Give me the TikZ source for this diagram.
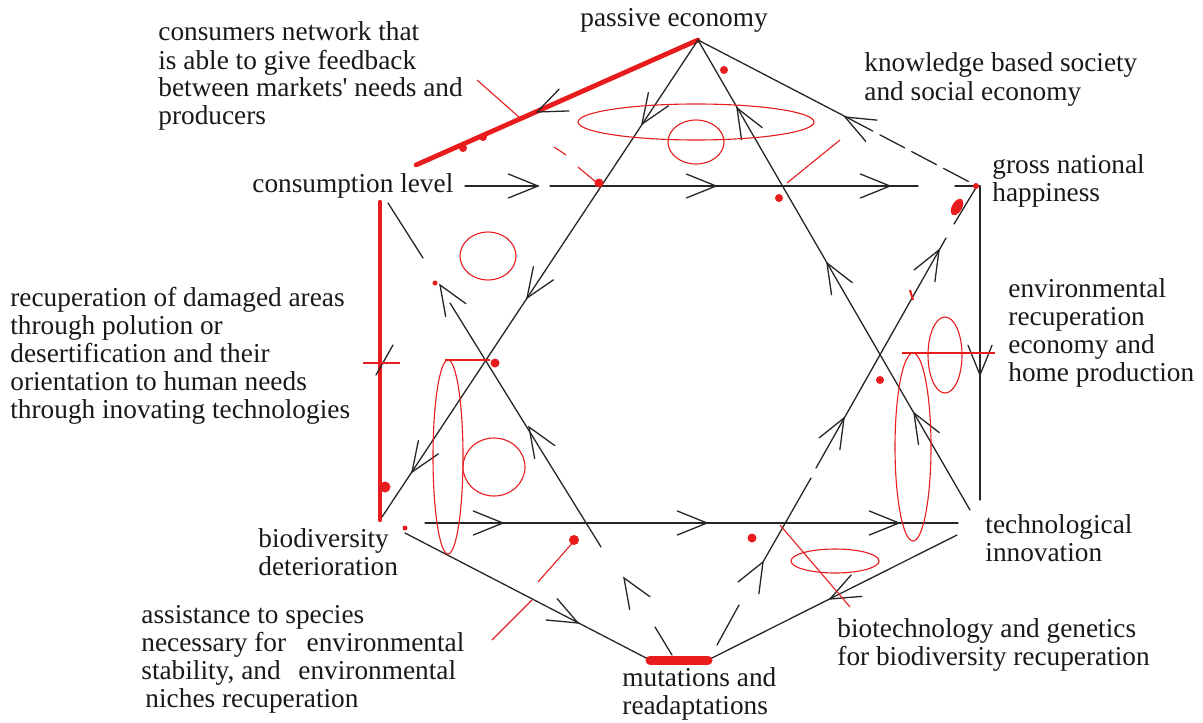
\documentclass[tikz,border=0pt]{standalone}
\usepackage{fontspec}
\setmainfont{Liberation Serif}
\begin{document}
\begin{tikzpicture}[x=0.5pt,y=-0.5pt,
  lbl/.style={anchor=base west, inner sep=0pt, align=left,
              font=\fontsize{13.65}{14}\selectfont, text=black!90},
  edge/.style={line width=0.65pt, draw=black!85, line cap=round},
  redline/.style={line width=0.55pt, draw=mred},
  redthick/.style={line width=2.4pt, draw=mred, line cap=round},
  reddot/.style={fill=mred, draw=none}]
\definecolor{mred}{RGB}{232,28,28}
% open V arrowhead: tip x, tip y, direction of travel (degrees, y downwards)
\newcommand\vhead[3]{\draw[edge,shift={(#1,#2)}] ({#3+158}:32) -- (0,0) -- ({#3-158}:32);}

\fill[white] (0,0) rectangle (1203,722);
\useasboundingbox (0,0) rectangle (1203,722);

% ---------- vertices of the hexagon ----------
\coordinate (T)   at (698,40);
\coordinate (UL)  at (416,165);
\coordinate (ULv) at (380,202);
\coordinate (LLv) at (380,520);
\coordinate (LL)  at (405,533);
\coordinate (Bl)  at (650,660);
\coordinate (Br)  at (708,660);
\coordinate (LR)  at (957,535);
\coordinate (UR)  at (977,186);
\coordinate (URv) at (980,186);
\coordinate (LRv) at (980,500);
\coordinate (Td)  at (848,118);

% ---------- outer hexagon ----------
\draw[redthick] (T) -- (UL);
\draw[redthick, line width=2.1pt] (ULv) -- (LLv);
\draw[edge] (LL) -- (Bl);
\draw[edge] (Br) -- (LR);
\draw[edge] (URv) -- (LRv);
\draw[edge] (T) -- (Td);
\draw[edge, dash pattern=on 14pt off 4pt] (Td) -- (UR);
\draw[mred, line width=4.5pt, line cap=round] (Bl) -- (Br);

% ---------- star: upward triangle ----------
\coordinate (Aend) at (382,517);
\coordinate (Bend) at (970,510);
\draw[edge] (T) -- (Aend);
\draw[edge] (T) -- (Bend);
\coordinate (lh1) at (425,523);
\coordinate (lh2) at (958,523);
\draw[edge] (lh1) -- (lh2);

% ---------- star: downward triangle ----------
\coordinate (uh1) at (465,186);
\coordinate (uh2) at (538,186);
\coordinate (uh3) at (550,186);
\coordinate (uh4) at (918,186);
\coordinate (uh5) at (955,186);
\draw[edge] (uh1) -- (uh2);
\draw[edge] (uh3) -- (uh4);
\draw[edge] (uh5) -- (URv);
% left edge, drawn in pieces
\coordinate (bl1) at (388,203);
\coordinate (bl2) at (423,258);
\coordinate (bl3) at (450,303);
\coordinate (bl4) at (601,547);
\coordinate (bl5) at (655,627);
\coordinate (bl6) at (672,655);
\draw[edge] (bl1) -- (bl2);
\draw[edge] (bl3) -- (bl4);
\draw[edge] (bl5) -- (bl6);
% right edge, drawn in pieces
\coordinate (br1) at (954,224);
\coordinate (br2) at (946,238);
\coordinate (br3) at (816,468);
\coordinate (br4) at (811,478);
\coordinate (br5) at (763,562);
\coordinate (br6) at (739,605);
\coordinate (br7) at (717,645);
\draw[edge] (UR) -- (br1);
\draw[edge] (br2) -- (br3);
\draw[edge] (br4) -- (br5);
\draw[edge] (br6) -- (br7);

% ---------- arrowheads ----------
\vhead{538}{186}{0}   \vhead{716}{186}{0}   \vhead{890}{186}{0}
\vhead{503}{523}{0}   \vhead{707}{523}{0}   \vhead{899}{523}{0}
\vhead{642}{124}{123.5} \vhead{527}{298}{123.5} \vhead{412}{472}{123.5}
\vhead{737}{108}{239.9} \vhead{827}{263}{239.9} \vhead{914}{413}{239.9}
\vhead{440}{285}{237.8} \vhead{529}{427}{237.8} \vhead{624}{578}{237.8}
\vhead{939}{250}{299.4} \vhead{844}{418}{299.4} \vhead{763}{562}{299.4}
\vhead{845}{117}{207.6}
\vhead{537}{112}{156.1}
\vhead{578}{623}{27.4}
\vhead{830}{599}{153.3}
\vhead{980}{375}{90}
\draw[edge] (376,375) -- (393,345);

% ---------- red annotations ----------
\draw[redline] (477,80) -- (520,118);
\draw[redline] (554,147) -- (566,155);
\draw[redline] (578,167) -- (597,183);
\draw[redline] (787,183) -- (840,140);
\draw[redline] (696,122) ellipse [x radius=118, y radius=18];
\draw[redline] (696,142) ellipse [x radius=28, y radius=22];
\draw[redline] (488,256) ellipse [x radius=28, y radius=24];
\draw[redline] (448,457) ellipse [x radius=15, y radius=97];
\draw[redline] (494,467) ellipse [x radius=31, y radius=29];
\draw[redline] (445,360) -- (490,360);
\draw[redline] (363,363) -- (400,363);
\draw[redline] (913,447) ellipse [x radius=18, y radius=94];
\draw[redline] (945,355) ellipse [x radius=17, y radius=38];
\draw[redline] (902,353) -- (995,353);
\draw[redline, line width=1pt] (910,290) -- (913,300);
\draw[redline] (835,561) ellipse [x radius=44, y radius=12];
\draw[redline] (780,525) -- (850,607);
\draw[redline] (575,540) -- (538,582);
\draw[redline] (532,600) -- (492,640);

\fill[reddot] (599,183) circle [radius=4.5];
\fill[reddot] (779,198) circle [radius=4];
\fill[reddot] (724,70) circle [radius=4];
\fill[reddot] (495,363) circle [radius=4.5];
\fill[reddot] (880,380) circle [radius=4];
\fill[reddot] (574,540) circle [radius=5];
\fill[reddot] (752,538) circle [radius=4.5];
\fill[reddot] (435,283) circle [radius=2.5];
\fill[reddot] (405,528) circle [radius=2.5];
\fill[reddot] (976,186) circle [radius=3];
\fill[reddot, rotate around={-30:(957,207)}] (957,207) ellipse [x radius=5, y radius=9];
\fill[reddot] (385,487) circle [radius=5.5];
\fill[reddot] (463,148) circle [radius=4];
\fill[reddot] (483,137) circle [radius=4];

% ---------- labels (anchored at the baseline of the last line) ----------
\node[lbl] (passive) at (580,27) {passive economy};
\node[lbl] (consumers) at (158,125) {consumers network that\\is able to give feedback\\between markets\textquotesingle{} needs and\\producers};
\node[lbl] (knowledge) at (864,100) {knowledge based society\\and social economy};
\node[lbl] (gnh) at (992,201) {gross national\\happiness};
\node[lbl] (conslevel) at (252,192) {consumption level};
\node[lbl] (recup) at (10,418) {recuperation of damaged areas\\through polution or\\desertification and their\\orientation to human needs\\through inovating technologies};
\node[lbl] (envrec) at (1008,381) {environmental\\recuperation\\economy and\\home production};
\node[lbl] (biodiv) at (258,575) {biodiversity\\deterioration};
\node[lbl] (techinn) at (985,561) {technological\\innovation};
\node[lbl] (assist) at (141,707) {assistance to species\\necessary for\hspace{0.75em}environmental\\stability, and\hspace{0.65em}environmental\\\hspace{0.15em}niches recuperation};
\node[lbl] (biotech) at (837,665) {biotechnology and genetics\\for biodiversity recuperation};
\node[lbl] (mutations) at (622,714) {mutations and\\readaptations};
\end{tikzpicture}
\end{document}
